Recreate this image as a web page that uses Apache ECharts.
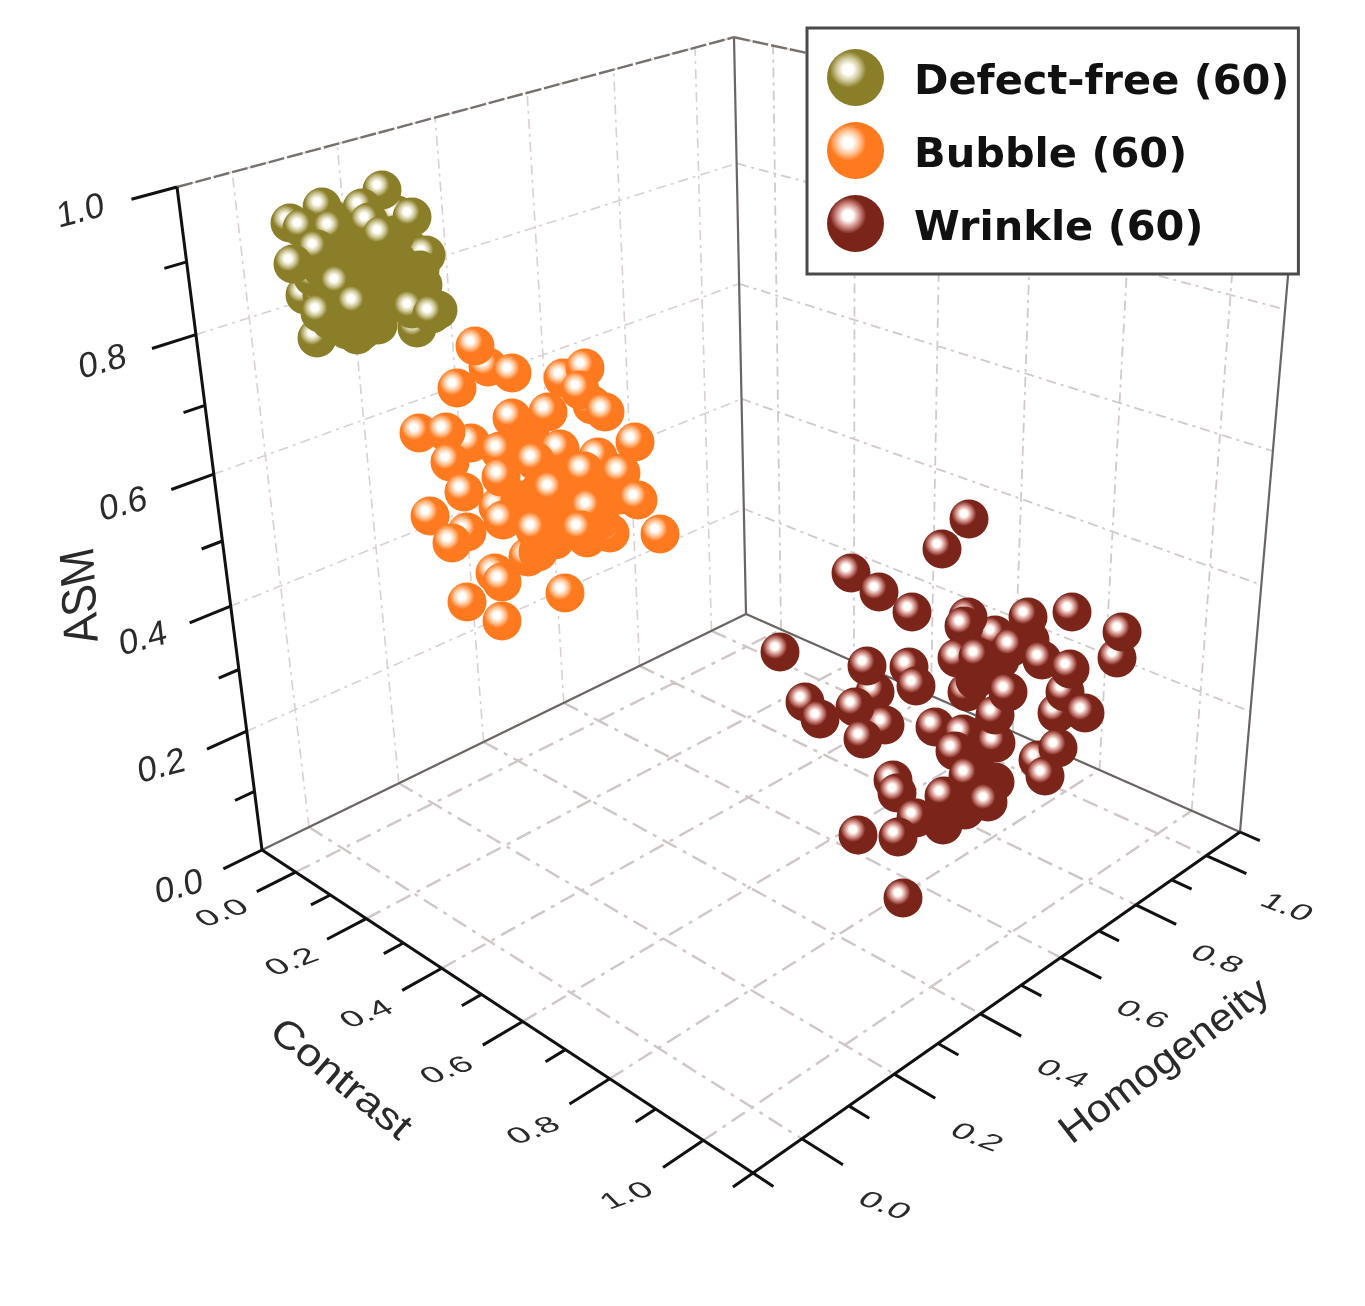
<!DOCTYPE html>
<html><head><meta charset="utf-8">
<style>html,body{margin:0;padding:0;background:#fff}#main{width:1365px;height:1306px;filter:blur(0.7px)}</style>
<script src="https://cdn.jsdelivr.net/npm/echarts@6/dist/echarts.min.js"></script>
</head><body><div id="main"></div>
<script>
// Values: positions of each sphere on the projected chart plane (draw order = back to front)
const defectFree = [
[290,223],[330,218],[397,215],[357,272],[378,277],[392,268],[367,252],[408,248],[426,255],[423,285],
[387,303],[305,295],[322,295],[313,277],[347,330],[363,330],[417,328],[317,338],[345,245],
[345,262],[358,285],[372,262],[385,280],[398,262],[410,275],[345,300],[368,305],[395,300],[330,320],
[355,318],[378,322],[402,300],[340,262],[322,268],[350,240],[375,245],[395,235],[405,290],[420,270],
[333,290],[385,298],[365,272],[357,335],[378,325],[438,310],
[382,190],[322,207],[362,208],[412,217],[302,228],[332,229],[369,222],[382,235],[317,249],[293,264],
[339,284],[356,304],[320,313],[412,309],[432,314]
];
const bubble = [
[488,367],[471,443],[530,482],[467,532],[495,573],[598,457],[528,557],[610,533],[568,522],[529,513],
[592,405],[550,473],[498,507],
[530,430],[520,500],[545,510],[560,470],[575,495],[600,490],[555,540],[587,538],[620,495],[515,455],
[540,490],[565,520],[538,552],[600,520],
[475,346],[457,388],[512,373],[563,378],[585,368],[580,390],[605,412],[512,418],[548,412],[419,433],
[446,432],[635,442],[500,451],[560,449],[535,461],[450,462],[501,477],[584,471],[621,473],[552,490],
[464,492],[638,500],[590,508],[430,516],[503,520],[535,530],[581,530],[452,543],[660,534],[502,582],
[467,602],[502,621],[565,593]
];
const wrinkle = [
[1117,658],[1057,713],[1065,692],[1085,713],[1038,760],[893,780],[943,825],[995,635],[968,617],[967,692],
[875,692],[995,782],[885,725],
[985,670],[975,680],[1000,660],[985,780],[965,810],[940,815],[990,730],[1030,640],[975,760],
[969,519],[942,549],[851,573],[879,592],[912,612],[780,652],[867,666],[909,667],[916,686],[805,702],
[820,719],[855,707],[863,739],[935,727],[963,734],[955,751],[996,743],[995,715],[1008,692],[964,626],
[957,658],[978,657],[1012,647],[1028,617],[1072,612],[1042,660],[1070,669],[1122,632],[1058,748],[1045,776],
[968,776],[944,796],[988,802],[897,793],[916,818],[898,837],[858,835],[903,898]
];
// How many leading points are partly covered, and how many after them have no visible highlight
const coveredCounts = { partly: [19, 13, 13], hidden: [26, 14, 9] };
const seriesNames = ['Defect-free (60)', 'Bubble (60)', 'Wrinkle (60)'];
const majorTicks = [0, 0.2, 0.4, 0.6, 0.8, 1];
const floorMinorTicks = [-0.1, 0.1, 0.3, 0.5, 0.7, 0.9, 1.1];
const asmMinorTicks = [0.1, 0.3, 0.5, 0.7, 0.9];
const tickLabels = ['0.0', '0.2', '0.4', '0.6', '0.8', '1.0'];
const axisTitles = ['Contrast', 'Homogeneity', 'ASM'];

// Camera calibration of the 3D box
const cMin = -0.1, cMax = 1.1, hMin = -0.1, hMax = 1.1;
const A = [262, 850], B = [753, 1173], C = [1240, 832], D = [746, 614], Ta = [177, 187], Tb = [734, 36];
const sx0 = A[0] - B[0] + C[0] - D[0], sy0 = A[1] - B[1] + C[1] - D[1];
const dx1 = B[0] - C[0], dx2 = D[0] - C[0], dy1 = B[1] - C[1], dy2 = D[1] - C[1];
const den = dx1 * dy2 - dx2 * dy1;
const pg = (sx0 * dy2 - dx2 * sy0) / den, ph = (dx1 * sy0 - sx0 * dy1) / den;
const pa = B[0] - A[0] + pg * B[0], pb = D[0] - A[0] + ph * D[0];
const pd = B[1] - A[1] + pg * B[1], pe = D[1] - A[1] + ph * D[1];
const ps = (Tb[0] * ph - pb) / (Ta[0] - Tb[0]);
const pp = Ta[0] * ps - A[0], pq = Ta[1] * ps - A[1], pr = ps - 1;
function project(c, h, z) {
  const u = (c - cMin) / (cMax - cMin), v = (h - hMin) / (hMax - hMin);
  const w = pg * u + ph * v + pr * z + 1;
  return [(pa * u + pb * v + pp * z + A[0]) / w, (pd * u + pe * v + pq * z + A[1]) / w];
}
const BREAK = ['-', '-'];
function segs(list) {
  const out = [];
  list.forEach(s => { out.push(project(...s[0]), project(...s[1]), BREAK); });
  return out;
}
function lineSeries(list, color, width, dash, z) {
  return { type: 'line', data: segs(list), showSymbol: false, silent: true, connectNulls: false, z: z,
    animation: false, lineStyle: { color: color, width: width, type: dash || 'solid', cap: 'butt' } };
}
const floorGrid = [], wallLeft = [], wallRight = [], frameDark = [], frameTop = [], axesBlack = [];
majorTicks.forEach(t => {
  floorGrid.push([[t, hMin, 0], [t, hMax, 0]]);
  floorGrid.push([[cMin, t, 0], [cMax, t, 0]]);
  wallLeft.push([[cMin, t, 0], [cMin, t, 1]]);
  wallRight.push([[t, hMax, 0], [t, hMax, 1]]);
  wallLeft.push([[cMin, hMin, t], [cMin, hMax, t]]);
  wallRight.push([[cMin, hMax, t], [cMax, hMax, t]]);
  axesBlack.push([[t, hMin, 0], [t, hMin - 0.08, 0]]);
  axesBlack.push([[cMax, t, 0], [cMax + 0.08, t, 0]]);
  axesBlack.push([[cMin, hMin, t], [cMin, hMin - 0.08, t]]);
});
floorMinorTicks.forEach(t => {
  axesBlack.push([[t, hMin, 0], [t, hMin - 0.04, 0]]);
  axesBlack.push([[cMax, t, 0], [cMax + 0.04, t, 0]]);
});
asmMinorTicks.forEach(t => axesBlack.push([[cMin, hMin, t], [cMin, hMin - 0.04, t]]));
axesBlack.push([[cMin, hMin, 0], [cMax, hMin, 0]], [[cMax, hMin, 0], [cMax, hMax, 0]], [[cMin, hMin, 0], [cMin, hMin, 1]]);
frameDark.push([[cMin, hMin, 0], [cMin, hMax, 0]], [[cMin, hMax, 0], [cMax, hMax, 0]],
  [[cMin, hMax, 0], [cMin, hMax, 1]], [[cMax, hMax, 0], [cMax, hMax, 1]]);
frameTop.push([[cMin, hMin, 1], [cMin, hMax, 1]], [[cMin, hMax, 1], [cMax, hMax, 1]]);

// Text labels lying on the box planes: e1 = baseline direction, e2 = glyph-down direction
const texts = [];
const FONT = '"Liberation Sans", Arial, sans-serif';
function shifted(p, dx, dy) { return [p[0] + dx, p[1] + dy]; }
majorTicks.forEach((t, i) => {
  texts.push({ s: tickLabels[i], p: shifted(project(t, hMin - 0.145, 0), -2, 6), f: 32, e1: [1.05, -0.38], e2: [0.6, 0.6] });
  texts.push({ s: tickLabels[i], p: shifted(project(cMax + 0.15, t, 0), 4, 18), f: 32, e1: [1.05, 0.4], e2: [-0.55, 0.6] });
  texts.push({ s: tickLabels[i], p: shifted(project(cMin, hMin - 0.155, t), -7, 1), f: 35, e1: [0.97, -0.26], e2: [0.12, 1] });
});
texts.push({ s: axisTitles[0], p: [340, 1080], f: 42, e1: [0.83, 0.67], e2: [-0.6, 0.7] });
texts.push({ s: axisTitles[1], p: [1165, 1062], f: 42, e1: [0.81, -0.6], e2: [0.58, 0.75] });
texts.push({ s: axisTitles[2], p: [82, 596], f: 44, e1: [-0.05, -1], e2: [1.1, -0.25] });

function svd(e1, e2) {
  const a = e1[0], b = e2[0], c = e1[1], d = e2[1];
  const E = (a + d) / 2, F = (a - d) / 2, G = (c + b) / 2, H = (c - b) / 2;
  const Q = Math.hypot(E, H), R = Math.hypot(F, G);
  const a1 = Math.atan2(G, F), a2 = Math.atan2(H, E);
  return { sx: Q + R, sy: Q - R, t2: (a2 - a1) / 2, t1: (a2 + a1) / 2 };
}
function renderText(params, api) {
  const t = texts[params.dataIndex];
  const pt = api.coord([api.value(0), api.value(1)]);
  const m = svd(t.e1, t.e2);
  return { type: 'group', x: pt[0], y: pt[1], rotation: -m.t1, children: [
    { type: 'group', scaleX: m.sx, scaleY: m.sy, children: [
      { type: 'text', rotation: -m.t2, style: { text: t.s, x: 0, y: 0, fontSize: t.f, fontFamily: FONT,
        fill: '#2a2a2a', align: 'center', verticalAlign: 'middle' } } ] } ] };
}

function sphere(base, edge, glow) {
  return new echarts.graphic.RadialGradient(0.37, 0.36, 0.78, [
    { offset: 0, color: '#ffffff' }, { offset: 0.12, color: '#fffdf8' },
    { offset: 0.26, color: glow }, { offset: 0.41, color: base },
    { offset: 0.84, color: base }, { offset: 1, color: edge }]);
}
function scatter(idx, data, base, edge, glow) {
  const f = coveredCounts.partly[idx], h = coveredCounts.hidden[idx];
  const items = data.map((v, i) => (i >= f && i < f + h) ? { value: v, itemStyle: { color: base } } : v);
  return { name: seriesNames[idx], type: 'scatter', data: items, symbol: 'circle', symbolSize: 39, z: 5, animation: false,
    itemStyle: { color: sphere(base, edge, glow), opacity: 1 }, emphasis: { disabled: true }, silent: true };
}
const chart = echarts.init(document.getElementById('main'), null, { renderer: 'canvas' });
chart.setOption({
  backgroundColor: '#ffffff',
  animation: false,
  grid: { left: 0, right: 0, top: 0, bottom: 0, containLabel: false },
  xAxis: { type: 'value', min: 0, max: 1365, show: false },
  yAxis: { type: 'value', min: 0, max: 1306, inverse: true, show: false },
  tooltip: { show: false },
  legend: {
    data: seriesNames, orient: 'vertical', left: 807, top: 28, selectedMode: false,
    padding: [21, 9, 22, 20], itemWidth: 57, itemHeight: 57, itemGap: 16,
    backgroundColor: '#ffffff', borderColor: '#4a4a4a', borderWidth: 3, z: 10,
    formatter: '{t|{name}}',
    textStyle: { fontFamily: '"DejaVu Sans", sans-serif', fontWeight: 'bold', fontSize: 41.5, color: '#111',
      rich: { t: { fontFamily: '"DejaVu Sans", sans-serif', fontWeight: 'bold', fontSize: 41.5, color: '#111',
        lineHeight: 45, padding: [12, 0, 0, 25] } } }
  },
  series: [
    lineSeries(wallLeft, '#d9d0d0', 1.6, [10, 5, 3, 5], 1),
    lineSeries(wallRight, '#d2c9ca', 1.8, [10, 5, 3, 5], 1),
    lineSeries(floorGrid, '#d0c6c6', 2.4, [16, 7, 4, 7], 1),
    lineSeries(frameDark, '#6a6563', 2.2, null, 2),
    lineSeries(frameTop, '#77716e', 2.4, [16, 3], 2),
    lineSeries(axesBlack, '#111111', 3, null, 3),
    { type: 'custom', coordinateSystem: 'cartesian2d', renderItem: renderText, silent: true, z: 4, animation: false,
      data: texts.map(t => t.p), encode: { x: 0, y: 1 } },
    scatter(0, defectFree, '#8a7e28', '#847825', '#cfc99a'),
    scatter(1, bubble, '#ff7a1f', '#f87519', '#ffc598'),
    scatter(2, wrinkle, '#7b2419', '#661d13', '#d38f88')
  ]
});
</script></body></html>
